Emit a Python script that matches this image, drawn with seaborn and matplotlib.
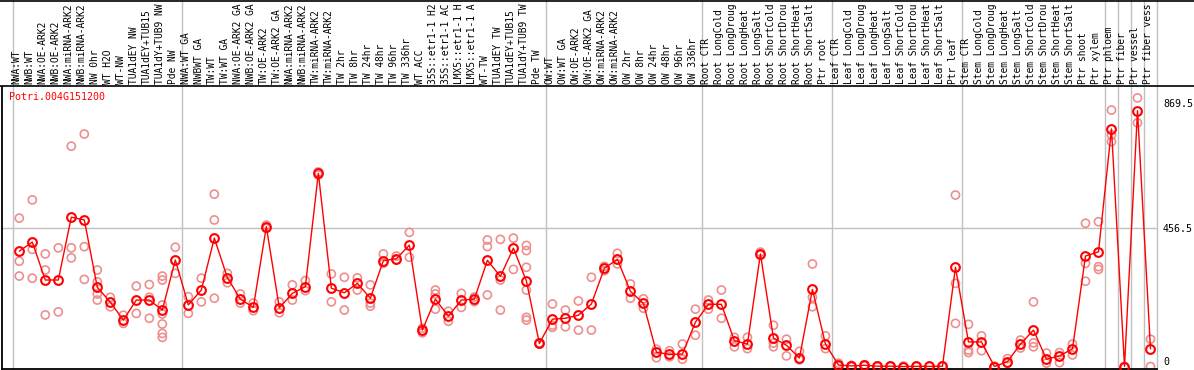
import matplotlib
matplotlib.use("Agg")
import matplotlib.pyplot as plt
from matplotlib.lines import Line2D
import seaborn as sns
import pandas as pd

gene = 'Potri.004G151200'

# sample names as they show in the header (long ones are cut at 14 chars)
samples = [
    'NWA:WT', 'NWB:WT', 'NWA:OE-ARK2', 'NWB:OE-ARK2', 'NWA:miRNA-ARK2', 'NWB:miRNA-ARK2',
    'NW 0hr', 'WT H2O', 'WT-NW', 'TUA1dEY NW', 'TUA1dEY+TUB15', 'TUA1dY+TUB9 NW', 'Pde NW',
    'NWA:WT GA', 'NWBWT GA', 'TW:WT', 'TW:WT GA', 'NWA:OE-ARK2 GA', 'NWB:OE-ARK2 GA',
    'TW:OE-ARK2', 'TW:OE-ARK2 GA', 'NWA:miRNA-ARK2', 'NWB:miRNA-ARK2', 'TW:miRNA-ARK2',
    'TW:miRNA-ARK2', 'TW 2hr', 'TW 8hr', 'TW 24hr', 'TW 48hr', 'TW 96hr', 'TW 336hr', 'WT ACC',
    '35S::etr1-1 H2', '35S::etr1-1 AC', 'LMX5::etr1-1 H', 'LMX5::etr1-1 A', 'WT-TW',
    'TUA1dEY TW', 'TUA1dEY+TUB15', 'TUA1dY+TUB9 TW', 'Pde TW',
    'OW:WT', 'OW:WT GA', 'OW:OE-ARK2', 'OW:OE-ARK2 GA', 'OW:miRNA-ARK2', 'OW:miRNA-ARK2',
    'OW 2hr', 'OW 8hr', 'OW 24hr', 'OW 48hr', 'OW 96hr', 'OW 336hr',
    'Root CTR', 'Root LongCold', 'Root LongDroug', 'Root LongHeat', 'Root LongSalt',
    'Root ShortCold', 'Root ShortDrou', 'Root ShortHeat', 'Root ShortSalt', 'Ptr root',
    'Leaf CTR', 'Leaf LongCold', 'Leaf LongDroug', 'Leaf LongHeat', 'Leaf LongSalt',
    'Leaf ShortCold', 'Leaf ShortDrou', 'Leaf ShortHeat', 'Leaf ShortSalt', 'Ptr leaf',
    'Stem CTR', 'Stem LongCold', 'Stem LongDroug', 'Stem LongHeat', 'Stem LongSalt',
    'Stem ShortCold', 'Stem ShortDrou', 'Stem ShortHeat', 'Stem ShortSalt', 'Ptr shoot',
    'Ptr xylem', 'Ptr phloem', 'Ptr fiber', 'Ptr vessel', 'Ptr fiber vess',
]

means = [
    380, 410, 285, 285, 492, 483, 261, 212, 153, 219, 219, 186, 351,
    203, 252, 423, 293, 222, 195, 461, 193, 241, 263, 637, 258, 243, 274, 225, 349, 355,
    400, 120, 222, 166, 219, 222, 350, 297, 390, 282, 76,
    156, 159, 169, 206, 324, 353, 248, 208, 47, 40, 41, 146,
    205, 205, 85, 74, 371, 94, 70, 28, 254, 74,
    5, 2, 4, 1, 1, 0, 0.5, 0.5, 1, 327,
    81, 81, 0, 16, 74, 120, 24, 35, 58, 364, 378,
    783, 0, 843, 58,
]

reps = [
    [489, 347, 298], [549, 386, 291], [371, 318, 170], [391, 180], [726, 391, 358],
    [766, 395, 287], [318, 279, 239, 219], [228, 197], [169, 142], [265, 175],
    [270, 228, 159], [298, 285, 203, 173, 140, 109, 96], [393, 307],
    [230, 175], [291, 213], [568, 483, 225], [307, 276], [239, 209], [209, 184],
    [466, 455], [213, 177], [269, 219], [283, 250], [641, 631], [305, 213], [294, 186],
    [292, 252], [269, 209, 199], [371, 340], [364, 351], [442, 360], [126, 111],
    [252, 239, 189], [182, 149], [241, 195], [214, 229], [417, 395, 236],
    [419, 285, 186], [423, 320], [399, 382, 327, 252, 162, 153], [78, 74],
    [206, 136, 129], [186, 131], [216, 120], [294, 120], [330, 316], [373, 338],
    [272, 225], [223, 192], [57, 29], [52, 32], [74, 24], [189, 103],
    [219, 189], [252, 159], [96, 65], [96, 59], [377, 367], [136, 77, 65], [90, 35],
    [50, 22], [338, 228, 197], [101, 59],
    [11, 2], [4, 0], [6, 2], [2, 0], [2, 0], [1, 0], [1, 0], [1, 0], [2, 0], [565, 274, 142],
    [139, 54, 46], [101, 52], [1, 0], [26, 11], [87, 61], [213, 78, 65], [44, 11], [46, 13],
    [74, 38], [472, 340, 281], [477, 329, 320],
    [845, 763, 741], [0, 0], [885, 803], [90, 0],
]

# last sample index of each tissue/experiment block
group_ends = [12, 40, 52, 62, 72, 83, 84, 85, 86, 87]
y_ticks = [0, 456.5, 869.5]

mean_df = pd.DataFrame({'pos': range(len(samples)), 'value': means})
rep_df = pd.DataFrame([(i, v) for i, vals in enumerate(reps) for v in vals],
                      columns=['pos', 'value'])

sns.set_theme(style='white')
plt.rcParams['font.family'] = ['DejaVu Sans Mono']

W, H = 1194, 370
fig = plt.figure(figsize=(W / 100, H / 100), dpi=100)
ax = fig.add_axes([2 / W, 1 / H, 1155 / W, 282 / H])
hdr = fig.add_axes([2 / W, 284 / H, 1155 / W, 86 / H])

grey = '#c0c0c0'
xlim = (-1.33, 87.5)

sns.scatterplot(data=rep_df, x='pos', y='value', ax=ax, s=34, marker='o',
                facecolors='none', edgecolor='#ee8e8e', linewidth=1.2, zorder=2)
sns.lineplot(data=mean_df, x='pos', y='value', ax=ax, color='red', lw=1,
             marker='o', markersize=6.3, markerfacecolor='none',
             markeredgecolor='red', markeredgewidth=1.5, zorder=3)

ax.axhline(456.5, color=grey, lw=1, zorder=0)
for e in [-0.5] + [g + 0.5 for g in group_ends]:
    ax.axvline(e, color=grey, lw=1, zorder=0, clip_on=False)
    hdr.axvline(e, color=grey, lw=1, zorder=0, clip_on=False)

ax.set_xlim(*xlim)
ax.set_ylim(-8.2, 921)
ax.set_xticks([])
ax.set_xlabel('')
ax.set_ylabel('')
for s in ['top', 'right']:
    ax.spines[s].set_visible(False)
for s in ['left', 'bottom']:
    ax.spines[s].set_color('black')
    ax.spines[s].set_linewidth(1.3)
ax.yaxis.tick_right()
ax.set_yticks(y_ticks)
ax.set_yticklabels(['0', '456.5', '869.5'])
ax.tick_params(axis='y', length=0, pad=4.3, labelsize=7.2, labelcolor='black')
ax.get_yticklabels()[0].set_va('bottom')

hdr.set_xlim(*xlim)
hdr.set_ylim(0, 1)
hdr.axis('off')
for i, name in enumerate(samples):
    hdr.text(i - 0.2, 0.025, name, rotation=90, ha='center', va='bottom',
             fontsize=6.9, color='black')

fig.add_artist(Line2D([0, 1], [1 - 0.6 / H, 1 - 0.6 / H], color='black', lw=1.2))
fig.add_artist(Line2D([0, 1], [1 - 86 / H, 1 - 86 / H], color='black', lw=1.2))

fig.text(9 / W, 1 - 97 / H, gene, color='red', fontsize=7.2, ha='left', va='center')

fig.savefig('out.png', dpi=100)
